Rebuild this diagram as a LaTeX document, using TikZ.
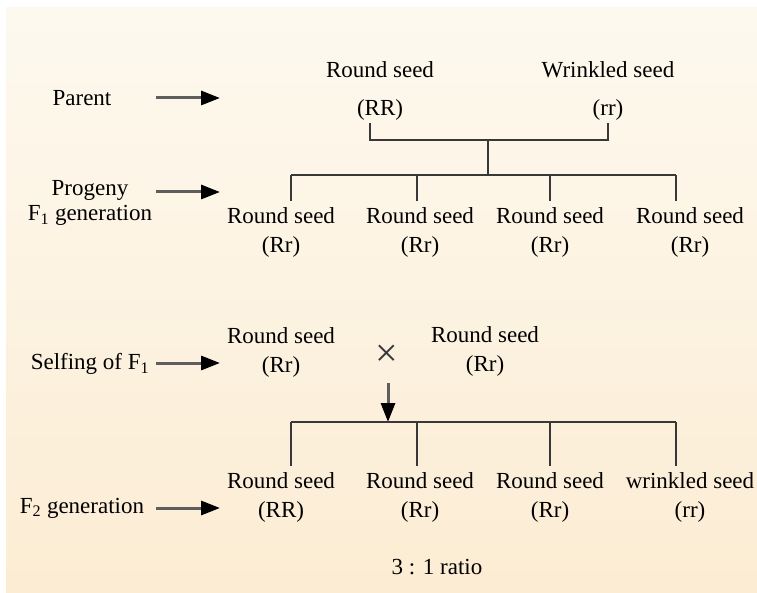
\documentclass[tikz,border=0pt]{standalone}
\usepackage{fontspec}
\setmainfont{Liberation Serif}
\usetikzlibrary{arrows.meta}
\definecolor{paperhigh}{HTML}{FDF9EF}
\definecolor{paperlow}{HTML}{FCECD3}
\definecolor{linegray}{HTML}{383838}
\definecolor{shaftgray}{HTML}{5E5E5E}
\begin{document}
\begin{tikzpicture}[x=1pt,y=-1pt,
  seed/.style={align=center,font=\fontsize{23}{29}\selectfont,inner xsep=0pt,inner ysep=6pt},
  genlabel/.style={align=center,font=\fontsize{23}{25}\selectfont,inner sep=0pt},
  genarrow/.style={draw=shaftgray,line width=3pt,-{Triangle[length=19pt,width=14pt,color=black]}},
  branch/.style={draw=linegray,line width=2pt}]
\useasboundingbox (0,0) rectangle (757,593);
\fill[white] (0,0) rectangle (757,593);
\shade[top color=paperhigh,bottom color=paperlow] (6,8) rectangle (757,593);

% row labels on the left
\node[genlabel] (parent) at (82,98) {Parent};
\node[genlabel] (progeny) at (90,203) {Progeny\\F\textsubscript{1} generation};
\node[genlabel] (selfing) at (90,364) {Selfing of F\textsubscript{1}};
\node[genlabel] (ftwo) at (82,508) {F\textsubscript{2} generation};
\foreach \y/\n in {98/pa,192/pr,363/se,508/ft}{
  \coordinate (\n0) at (156,\y);
  \coordinate (\n1) at (220,\y);
  \draw[genarrow] (\n0) -- (\n1);
}

% parents
\node[align=center,font=\fontsize{23}{29}\selectfont,inner sep=0pt] (rpar) at (380,91) {Round seed\\[9pt](RR)};
\node[align=center,font=\fontsize{23}{29}\selectfont,inner sep=0pt] (wpar) at (608,91) {Wrinkled seed\\[9pt](rr)};
\coordinate (pjoin) at (488,140);
\coordinate (fonebar) at (488,175);
\draw[branch] ([xshift=-10pt,yshift=-2pt]rpar.south) |- (pjoin) -| ([yshift=-2pt]wpar.south);
\draw[branch] (pjoin) -- (fonebar);

% F1 progeny
\foreach \x/\c in {281/a,420/b,550/c,690/d}
  \node[seed] (fone\c) at (\x,232) {Round seed\\(Rr)};
\foreach \x/\c in {291/a,417/b,550/c,676/d}
  \coordinate (ftop\c) at (\x,175);
\draw[branch] (ftopa) -- (ftopd);
\foreach \c in {a,b,c,d}
  \draw[branch] (ftop\c) -- (ftop\c |- fone\c.north);

% selfing of F1
\node[seed] (sleft) at (281,352) {Round seed\\(Rr)};
\node[seed] (sright) at (485,351) {Round seed\\(Rr)};
\node[font=\fontsize{40}{40}\selectfont,inner sep=0pt,text=linegray] (cross) at (387,356) {\texttimes};
\coordinate (xstart) at (388,383);
\coordinate (ftwobar) at (388,422);
\draw[genarrow] (xstart) -- (ftwobar);

% F2 generation
\node[seed] (ftwoa) at (281,497) {Round seed\\(RR)};
\node[seed] (ftwob) at (420,497) {Round seed\\(Rr)};
\node[seed] (ftwoc) at (550,497) {Round seed\\(Rr)};
\node[seed] (ftwod) at (690,497) {wrinkled seed\\(rr)};
\foreach \x/\c in {291/a,417/b,550/c,676/d}
  \coordinate (stop\c) at (\x,422);
\draw[branch] (stopa) -- (stopd);
\foreach \c in {a,b,c,d}
  \draw[branch] (stop\c) -- (stop\c |- ftwo\c.north);

\node[genlabel] (ratio) at (437,567) {3 : 1 ratio};
\end{tikzpicture}
\end{document}
